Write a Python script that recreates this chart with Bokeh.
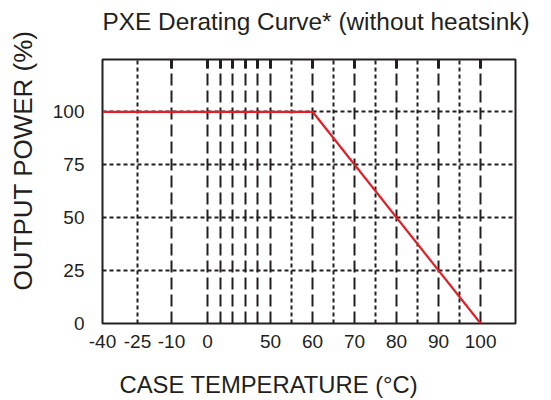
import numpy as np
from bokeh.plotting import figure
from bokeh.models import FixedTicker, Grid, Range1d, Title, LinearAxis
from bokeh.embed import file_html
from bokeh.resources import INLINE

# ---------------- data ----------------
curve_temp = [-40, 60, 100]          # case temperature (°C)
curve_power = [100, 100, 0]          # output power (%)

temp_tick_labels = [-40, -25, -10, 0, 50, 60, 70, 80, 90, 100]
power_ticks = [0, 25, 50, 75, 100]
dash_temps = [-10, 0, 10, 20, 30, 40, 50, 60, 70, 80, 90, 100]
dot_temps = [-25, 55, 65, 75, 85, 95]
dot_powers = [25, 50, 75, 100]
temp_range = [-40, 108.3]
power_range = [0, 124.7]

# the drawn temperature axis is broken (non-uniform): breakpoints temp -> axis units
axis_temps = [-40, -25, -10, 0, 50, 110]
axis_units = [0, 35, 69, 105, 168, 420]


def tx(t):
    return [float(v) for v in np.interp(t, axis_temps, axis_units)]


INK = "#231f20"
FONT = "Liberation Sans"

p = figure(
    frame_width=413, frame_height=264,
    min_border_left=102, min_border_right=26, min_border_top=59, min_border_bottom=76,
    x_range=Range1d(*tx(temp_range)), y_range=Range1d(*power_range),
    output_backend="svg", toolbar_location=None,
    title="PXE Derating Curve* (without heatsink)",
)
p.title.text_font = FONT
p.title.text_font_size = "24.4px"
p.title.text_font_style = "normal"
p.title.text_color = INK
p.title.align = "left"
p.title.offset = 0
p.title.standoff = 0

p.background_fill_color = "white"
p.border_fill_color = "white"
p.outline_line_color = INK
p.outline_line_width = 2
p.outline_line_alpha = 1

# axes
for ax in (p.xaxis[0], p.yaxis[0]):
    ax.axis_line_color = None
    ax.major_tick_line_color = None
    ax.minor_tick_line_color = None
    ax.major_label_text_font = FONT
    ax.major_label_text_font_size = "19px"
    ax.major_label_text_color = INK

xpos = tx(temp_tick_labels)
p.xaxis.ticker = FixedTicker(ticks=xpos)
p.xaxis.major_label_overrides = {x: str(t) for x, t in zip(xpos, temp_tick_labels)}
p.xaxis.major_label_standoff = 5

p.yaxis.ticker = FixedTicker(ticks=power_ticks)
p.yaxis.major_label_standoff = 12

# grids
p.ygrid.ticker = FixedTicker(ticks=dot_powers)
p.ygrid.grid_line_color = INK
p.ygrid.grid_line_width = 2
p.ygrid.grid_line_dash = "4 3"
p.ygrid.grid_line_alpha = 1

dash_pos = tx(dash_temps)
p.xgrid.ticker = FixedTicker(ticks=dash_pos)
p.xgrid.grid_line_color = INK
p.xgrid.grid_line_width = 2
p.xgrid.grid_line_dash = "12 5"
p.xgrid.grid_line_alpha = 1

dot_grid = Grid(dimension=0, ticker=FixedTicker(ticks=tx(dot_temps)),
                grid_line_color=INK, grid_line_width=2, grid_line_dash="4 3")
p.add_layout(dot_grid)

# derating curve
p.line(tx(curve_temp), curve_power, line_color="#e31e24", line_width=2.2)

# short heavy inward ticks along the top edge
top_axis = LinearAxis(ticker=FixedTicker(ticks=dash_pos),
                      major_tick_in=9, major_tick_out=0,
                      major_tick_line_width=3, major_tick_line_color=INK,
                      minor_tick_line_color=None, axis_line_color=None,
                      major_label_overrides={x: "" for x in dash_pos},
                      major_label_text_font_size="1px", major_label_standoff=0)


def spacer(size):
    return Title(text=" ", text_font_size="1px", standoff=size, text_color="white")


# top: heavy ticks next to the frame, then spacer, then the main title
p.above = [top_axis, spacer(22)]

# axis titles (spacer first so the label sits further out)
p.add_layout(spacer(15), "below")
p.add_layout(Title(text="CASE TEMPERATURE (°C)", align="left", offset=17,
                   text_font=FONT, text_font_size="23.8px", text_font_style="normal",
                   text_color=INK, standoff=0), "below")
p.add_layout(spacer(9), "left")
p.add_layout(Title(text="OUTPUT POWER (%)", align="right", offset=-29,
                   text_font=FONT, text_font_size="26px", text_font_style="normal",
                   text_color=INK, standoff=0), "left")

open("out.html", "w").write(file_html(p, INLINE))
